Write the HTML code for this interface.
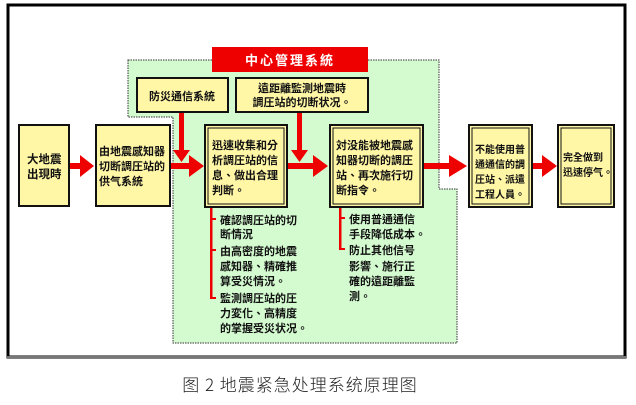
<!DOCTYPE html>
<html><head><meta charset="utf-8"><style>
html,body{margin:0;padding:0;background:#fff;width:636px;height:405px;overflow:hidden}
svg text{font-family:"Liberation Sans","Noto Sans CJK TC",sans-serif;font-size:11px;fill:#111;font-weight:bold}
svg text.sm{font-size:10px}
svg text.big{font-size:11.5px}
svg text.cap{font-family:"Noto Sans CJK SC",sans-serif;font-weight:300;font-size:17px;letter-spacing:1px;fill:#222}
svg text.ttl{fill:#fff;font-size:13px;letter-spacing:2px}
</style></head><body>
<svg width="636" height="405" viewBox="0 0 636 405" xmlns="http://www.w3.org/2000/svg">
<rect x="8" y="5" width="617" height="352" fill="#fff" stroke="#000" stroke-width="3"/>
<line x1="7" y1="357" x2="626" y2="357" stroke="#777" stroke-width="2"/>
<polygon points="128,60 439,60 439,189 457,189 457,343 173,343 173,117 128,117" fill="#d4fbd0" stroke="#333" stroke-width="1" stroke-dasharray="1.5,1"/>
<rect x="212" y="47" width="156" height="25" fill="#ee0000"/>
<text x="290" y="65" text-anchor="middle" class="ttl">中心管理系統</text>
<g fill="#ee0000" stroke="none">
<rect x="69" y="163" width="12" height="6"/><polygon points="80,155 94,166 80,177"/>
<rect x="170" y="163" width="20" height="6"/><polygon points="189,155 204,166 189,177"/>
<rect x="287" y="163" width="28" height="6"/><polygon points="313,155 328,166 313,177"/>
<rect x="423" y="163" width="28" height="6"/><polygon points="449,155 467,166 449,177"/>
<rect x="532" y="163" width="12" height="6"/><polygon points="542,155 557,166 542,177"/>
<rect x="179" y="112" width="5" height="42"/><polygon points="173,150 190,150 181.5,162"/>
<rect x="297" y="112" width="5" height="42"/><polygon points="291,150 308,150 299.5,162"/>
<rect x="210" y="207" width="2.5" height="92"/>
<rect x="210" y="218" width="6" height="2"/><rect x="210" y="249" width="6" height="2"/><rect x="210" y="297" width="6" height="2"/>
<rect x="339" y="207" width="2.5" height="43"/>
<rect x="339" y="217" width="6" height="2"/><rect x="339" y="248" width="6" height="2"/>
</g>
<g fill="#fff6a6" stroke="#111" stroke-width="2">
<rect x="19" y="125" width="50" height="81"/>
<rect x="96" y="125" width="74" height="81"/>
<rect x="137" y="78" width="91" height="34"/>
<rect x="236" y="78" width="132" height="34"/>
<rect x="205" y="125" width="82" height="82"/>
<rect x="330" y="125" width="93" height="82"/>
<rect x="469" y="125" width="63" height="82"/>
<rect x="558" y="125" width="56" height="82"/>
</g>
<g fill="none" stroke="#111" stroke-width="1">
<rect x="208" y="128" width="76" height="76"/>
<rect x="333" y="128" width="87" height="76"/>
<rect x="472" y="128" width="57" height="76"/>
<rect x="561" y="128" width="50" height="76"/>
</g>
<text x="27" y="163" class="big">大地震</text><text x="27" y="178" class="big">出現時</text>
<text x="99" y="155">由地震感知器</text><text x="99" y="170">切断調圧站的</text><text x="99" y="185">供气系統</text>
<text x="182" y="100" text-anchor="middle">防災通信系統</text>
<text x="302" y="92" text-anchor="middle">遠距離監測地震時</text><text x="302" y="106" text-anchor="middle">調圧站的切断状况。</text>
<text x="212" y="149">迅速收集和分</text><text x="212" y="164">析調圧站的信</text><text x="212" y="179">息、做出合理</text><text x="212" y="194">判断。</text>
<text x="336" y="149">対没能被地震感</text><text x="336" y="164">知器切断的調圧</text><text x="336" y="179">站、再次施行切</text><text x="336" y="194">断指令。</text>
<text x="475" y="153" class="sm">不能使用普</text><text x="475" y="168" class="sm">通通信的調</text><text x="475" y="183" class="sm">圧站、派遣</text><text x="475" y="198" class="sm">工程人員。</text>
<text x="563" y="161" class="sm">完全做到</text><text x="563" y="176" class="sm">迅速停气。</text>
<text x="220" y="224">確認調圧站的切</text><text x="220" y="238">断情況</text>
<text x="220" y="255">由高密度的地震</text><text x="220" y="270">感知器、精確推</text><text x="220" y="285">算受災情況。</text>
<text x="220" y="302">監測調圧站的圧</text><text x="220" y="317">力変化、高精度</text><text x="220" y="332">的掌握受災状况。</text>
<text x="349" y="223">使用普通通信</text><text x="349" y="238">手段降低成本。</text>
<text x="349" y="254">防止其他信号</text><text x="349" y="270">影響、施行正</text><text x="349" y="285">確的遠距離監</text><text x="349" y="300">測。</text>
<text x="300" y="391" text-anchor="middle" class="cap">图 2 地震紧急处理系统原理图</text>
</svg>
</body></html>
